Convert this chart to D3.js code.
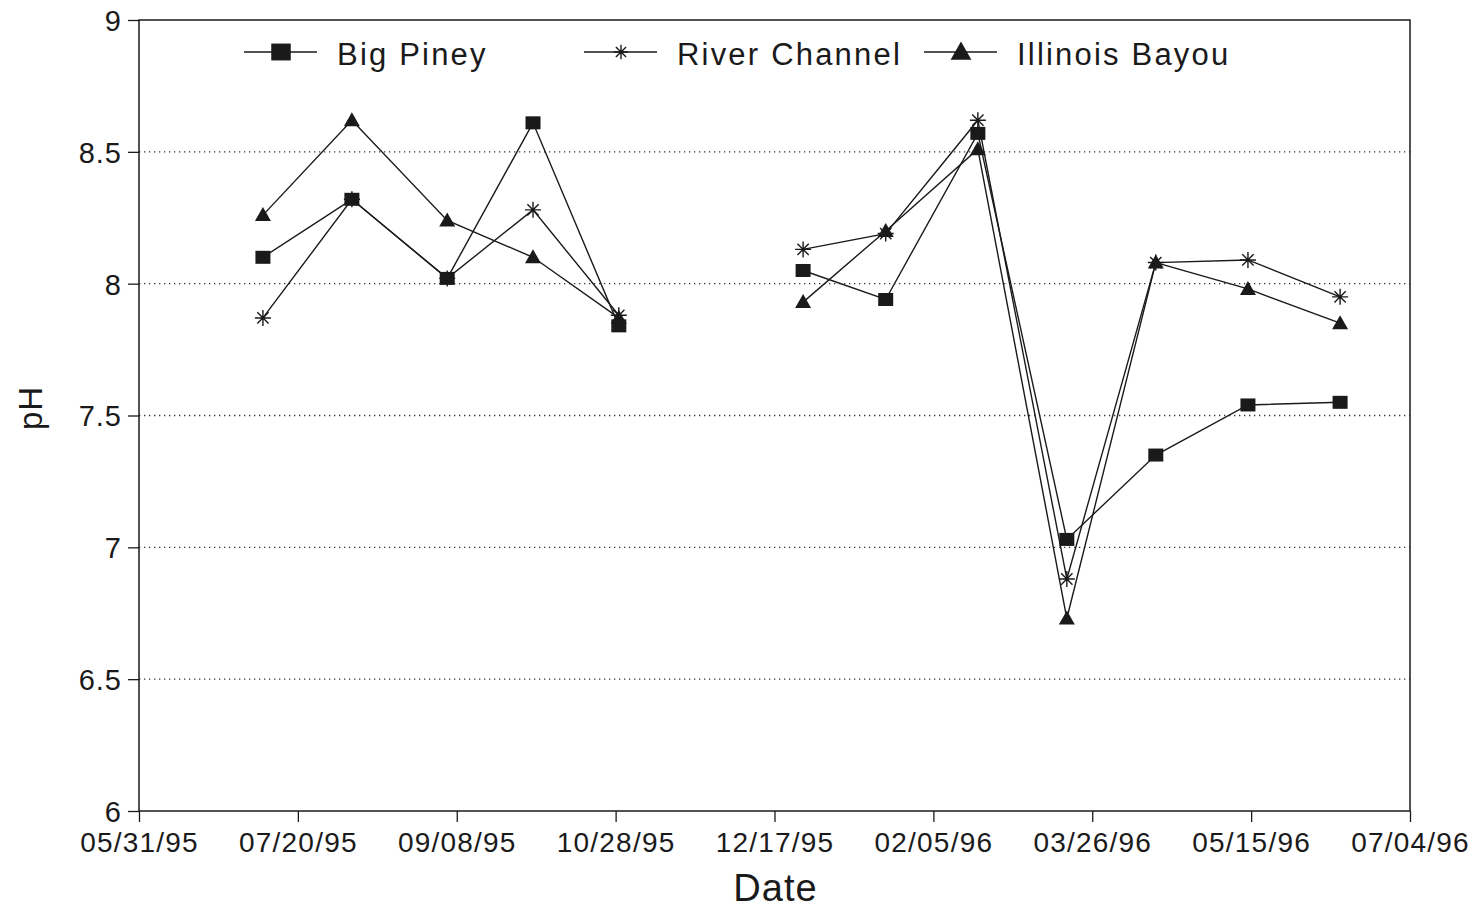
<!DOCTYPE html>
<html>
<head>
<meta charset="utf-8">
<script src="https://cdn.jsdelivr.net/npm/d3@7"></script>
<style>
  html, body { margin: 0; padding: 0; background: #ffffff; }
  svg { display: block; }
  text { font-family: "Liberation Sans", Arial, Helvetica, sans-serif; fill: #1a1a1a; }
</style>
</head>
<body>
<svg id="chart" width="1479" height="908"></svg>
<script>
// Sampling dates and pH readings at the three stations
const sampleDates = [
  "07/09/95", "08/06/95", "09/05/95", "10/02/95", "10/29/95",
  "12/26/95", "01/21/96", "02/19/96", "03/18/96", "04/15/96", "05/14/96", "06/12/96"
];
const bigPiney      = [8.10, 8.32, 8.02, 8.61, 7.84, 8.05, 7.94, 8.57, 7.03, 7.35, 7.54, 7.55];
const riverChannel  = [7.87, 8.32, 8.02, 8.28, 7.88, 8.13, 8.19, 8.62, 6.88, 8.08, 8.09, 7.95];
const illinoisBayou = [8.26, 8.62, 8.24, 8.10, 7.87, 7.93, 8.20, 8.51, 6.73, 8.08, 7.98, 7.85];

const seriesNames = ["Big Piney", "River Channel", "Illinois Bayou"];
const markerTypes = ["square", "asterisk", "triangle"];

const xTickLabels = ["05/31/95", "07/20/95", "09/08/95", "10/28/95", "12/17/95",
                     "02/05/96", "03/26/96", "05/15/96", "07/04/96"];
const yTickValues = [6, 6.5, 7, 7.5, 8, 8.5, 9];
const yGridValues = [6.5, 7, 7.5, 8, 8.5];

const parse = d3.utcParse("%m/%d/%y");
const fmt = d3.utcFormat("%m/%d/%y");

const svg = d3.select("#chart");
const plot = { left: 139, right: 1410, top: 20, bottom: 811 };

const x = d3.scaleUtc()
  .domain([parse(xTickLabels[0]), parse(xTickLabels[xTickLabels.length - 1])])
  .range([plot.left, plot.right]);
const y = d3.scaleLinear().domain([6, 9]).range([plot.bottom, plot.top]);

const ink = "#1a1a1a";

// dotted horizontal grid
svg.append("g")
  .selectAll("line")
  .data(yGridValues)
  .join("line")
  .attr("x1", plot.left).attr("x2", plot.right)
  .attr("y1", d => y(d)).attr("y2", d => y(d))
  .attr("stroke", "#333")
  .attr("stroke-width", 1.3)
  .attr("stroke-dasharray", "1.3,3.7");

// plot frame
svg.append("rect")
  .attr("x", plot.left).attr("y", plot.top)
  .attr("width", plot.right - plot.left).attr("height", plot.bottom - plot.top)
  .attr("fill", "none").attr("stroke", ink).attr("stroke-width", 1.5);

// y axis
const yAxis = d3.axisLeft(y).tickValues(yTickValues).tickSize(11).tickPadding(6)
  .tickFormat(d3.format("~g"));
const gy = svg.append("g").attr("transform", `translate(${plot.left},0)`).call(yAxis);
gy.select(".domain").remove();
gy.selectAll(".tick line").attr("stroke", ink).attr("stroke-width", 1.3);
gy.selectAll(".tick text").attr("font-size", 29).attr("fill", ink)
  .attr("font-family", "'Liberation Sans', Arial, sans-serif")
  .attr("letter-spacing", "1px").attr("dy", "0.36em");

// x axis
const xAxis = d3.axisBottom(x).tickValues(xTickLabels.map(parse)).tickSize(11).tickPadding(10)
  .tickFormat(fmt);
const gx = svg.append("g").attr("transform", `translate(0,${plot.bottom})`).call(xAxis);
gx.select(".domain").remove();
gx.selectAll(".tick line").attr("stroke", ink).attr("stroke-width", 1.3);
gx.selectAll(".tick text").attr("font-size", 28).attr("fill", ink)
  .attr("font-family", "'Liberation Sans', Arial, sans-serif")
  .attr("letter-spacing", "1.2px").attr("dy", "0.7em");

// axis titles
svg.append("text")
  .attr("x", (plot.left + plot.right) / 2 + 1).attr("y", 901)
  .attr("text-anchor", "middle").attr("font-size", 38).attr("letter-spacing", "1px")
  .text("Date");
svg.append("text")
  .attr("transform", "translate(42,408) rotate(-90)")
  .attr("text-anchor", "middle").attr("font-size", 33).attr("letter-spacing", "1px")
  .text("pH");

// marker drawing
function drawMarker(g, type, s) {
  if (type === "square") {
    g.append("rect").attr("x", -7.5 * s).attr("y", -6.5 * s)
      .attr("width", 15 * s).attr("height", 13 * s).attr("fill", ink);
  } else if (type === "triangle") {
    g.append("path")
      .attr("d", `M0,${-8 * s} L${8 * s},${6 * s} L${-8 * s},${6 * s} Z`)
      .attr("fill", ink);
  } else {
    const r = 8 * s;
    const d = r * Math.SQRT1_2;
    g.append("path")
      .attr("d", `M${-r},0L${r},0M0,${-r}L0,${r}M${-d},${-d}L${d},${d}M${-d},${d}L${d},${-d}`)
      .attr("stroke", ink).attr("stroke-width", 1.4).attr("fill", "none");
  }
}

const allSeries = [bigPiney, riverChannel, illinoisBayou].map((vals, i) => ({
  name: seriesNames[i],
  marker: markerTypes[i],
  points: vals.map((v, j) => ({ date: parse(sampleDates[j]), value: v }))
}));

// break a series wherever sampling paused for more than ~6 weeks
function segments(points) {
  const out = [[points[0]]];
  for (let k = 1; k < points.length; k++) {
    const gapDays = (points[k].date - points[k - 1].date) / 864e5;
    if (gapDays > 45) out.push([]);
    out[out.length - 1].push(points[k]);
  }
  return out;
}

const line = d3.line().x(d => x(d.date)).y(d => y(d.value));

allSeries.forEach(s => {
  const g = svg.append("g");
  segments(s.points).forEach(seg => {
    g.append("path").attr("d", line(seg))
      .attr("fill", "none").attr("stroke", ink).attr("stroke-width", 1.4);
  });
  s.points.forEach(p => {
    const m = g.append("g").attr("transform", `translate(${x(p.date)},${y(p.value)})`);
    drawMarker(m, s.marker, 1);
  });
});

// legend
const legendX = [244, 584, 924];
const legend = svg.append("g");
allSeries.forEach((s, i) => {
  const g = legend.append("g").attr("transform", `translate(${legendX[i]},52)`);
  g.append("line").attr("x1", 0).attr("x2", 73).attr("y1", 0).attr("y2", 0)
    .attr("stroke", ink).attr("stroke-width", 1.4);
  const m = g.append("g").attr("transform", "translate(37,0)");
  drawMarker(m, s.marker, s.marker === "asterisk" ? 0.9 : 1.3);
  g.append("text").attr("x", 93).attr("y", 13)
    .attr("font-size", 31).attr("letter-spacing", "2.2px")
    .text(s.name);
});
</script>
</body>
</html>
